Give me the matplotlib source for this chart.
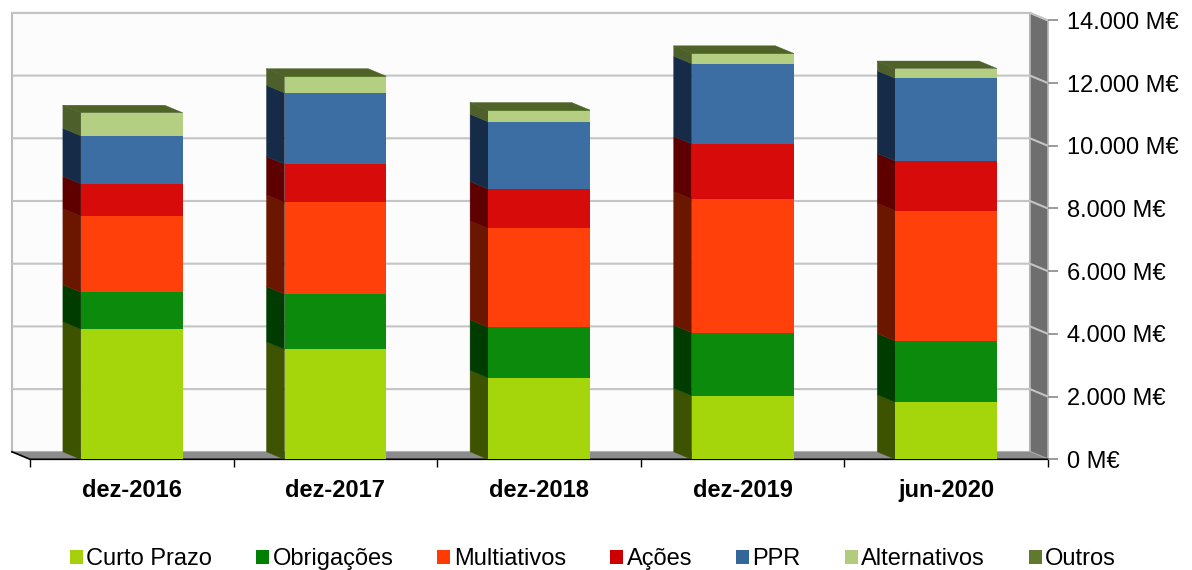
import numpy as np
import matplotlib.pyplot as plt
from matplotlib.patches import Polygon, Patch

plt.rcParams['font.family'] = ['Liberation Sans', 'DejaVu Sans']

categories = ["dez-2016", "dez-2017", "dez-2018", "dez-2019", "jun-2020"]
series = ["Curto Prazo", "Obrigações", "Multiativos", "Ações", "PPR", "Alternativos", "Outros"]

# values in M€
curto_prazo = [4150, 3510, 2600, 2030, 1820]
obrigacoes = [1180, 1760, 1610, 2010, 1955]
multiativos = [2430, 2925, 3155, 4265, 4155]
acoes = [1030, 1220, 1255, 1755, 1585]
ppr = [1530, 2275, 2150, 2560, 2640]
alternativos = [715, 510, 350, 310, 290]
outros = [20, 20, 20, 20, 20]

yticks = [0, 2000, 4000, 6000, 8000, 10000, 12000, 14000]
ytick_labels = ["0 M€", "2.000 M€", "4.000 M€", "6.000 M€", "8.000 M€",
                "10.000 M€", "12.000 M€", "14.000 M€"]

front_colors = ["#a4d60b", "#0b8a0b", "#ff400b", "#d80b0b", "#3c6ea4", "#b4cf82", "#5a7a2e"]
side_colors = ["#3e5300", "#003b00", "#6b1700", "#5e0000", "#162b47", "#4d5f2a", "#4a5c24"]
top_color = "#4f6228"
legend_colors = ["#a6cf0e", "#008000", "#ff3c00", "#cc0000", "#336699", "#b2cc7e", "#5f7a2e"]

data = np.array([curto_prazo, obrigacoes, multiativos, acoes, ppr, alternativos, outros], dtype=float)

W, H = 1192, 570
fig = plt.figure(figsize=(W / 100, H / 100), dpi=100)

# front plane: x -0.5..4.5 -> px 30..1048, y 0 -> px 459.3, 31.35 px per 1000
px_per_unit_y = 0.03135
y_top = 14300
ax = fig.add_axes([30 / W, (H - 459.3) / H, 1018 / W, y_top * px_per_unit_y / H])
ax.set_xlim(-0.5, 4.5)
ax.set_ylim(0, y_top)
for s in ax.spines.values():
    s.set_visible(False)

# 3D depth offset (left and up)
dx = 18 / (1018 / 5)
dy = 7.5 / px_per_unit_y
x0, x1 = -0.5, 4.5
ymax = yticks[-1]

# back wall
ax.add_patch(Polygon([(x0 - dx, dy), (x1 - dx, dy), (x1 - dx, ymax + dy), (x0 - dx, ymax + dy)],
                     closed=True, facecolor="#fcfcfc", edgecolor="#bdbdbd", lw=1.5, zorder=0, clip_on=False))
# right side panel
ax.add_patch(Polygon([(x1 - dx, dy), (x1, 0), (x1, ymax), (x1 - dx, ymax + dy)],
                     closed=True, facecolor="#6e6e6e", edgecolor="#b5b5b5", lw=1.2, zorder=0.5, clip_on=False))
# floor
ax.add_patch(Polygon([(x0 - dx, dy), (x1 - dx, dy), (x1, 0), (x0, 0)],
                     closed=True, facecolor="#8c8c8c", edgecolor="none", zorder=0.5, clip_on=False))

# gridlines on back wall and across the right panel
for v in yticks[1:]:
    ax.plot([x0 - dx, x1 - dx, x1], [v + dy, v + dy, v], color="#c4c4c4", lw=1.5,
            zorder=1, clip_on=False, solid_capstyle="butt")

# axis lines
ax.plot([x0 - dx, x0, x1], [dy, 0, 0], color="black", lw=1.2, zorder=1.5, clip_on=False)

# bars
bar_w = 0.5
xs = np.arange(len(categories))
bottoms = np.zeros(len(categories))
for i, name in enumerate(series):
    vals = data[i]
    ax.bar(xs, vals, bar_w, bottom=bottoms, color=front_colors[i], lw=0, zorder=3)
    for x, b, v in zip(xs, bottoms, vals):
        xl = x - bar_w / 2
        ax.add_patch(Polygon([(xl, b), (xl, b + v), (xl - dx, b + v + dy), (xl - dx, b + dy)],
                             closed=True, facecolor=side_colors[i], edgecolor=side_colors[i],
                             lw=0.3, zorder=2.5, clip_on=False))
    bottoms = bottoms + vals

for x, t in zip(xs, bottoms):
    xl, xr = x - bar_w / 2, x + bar_w / 2
    ax.add_patch(Polygon([(xl, t), (xr, t), (xr - dx, t + dy), (xl - dx, t + dy)],
                         closed=True, facecolor=top_color, edgecolor=top_color, lw=0.3,
                         zorder=2.6, clip_on=False))

# x axis
ax.set_xticks(xs)
ax.set_xticklabels(categories, fontsize=17, fontweight="bold")
ax.tick_params(axis="x", which="major", length=0, pad=14)
ax.set_xticks(np.arange(-0.5, 5, 1), minor=True)
ax.tick_params(axis="x", which="minor", length=6, width=1, color="black", direction="out")

# y axis on the right
ax.yaxis.tick_right()
ax.set_yticks(yticks)
ax.set_yticklabels(ytick_labels, fontsize=17)
ax.tick_params(axis="y", length=7, width=1.2, color="#8a8a8a", pad=7, direction="out")
ax.tick_params(axis="y", which="minor", length=0)
ax.set_facecolor("none")

handles = [Patch(facecolor=c, edgecolor="none") for c in legend_colors]
fig.legend(handles, series, loc="center", bbox_to_anchor=(593 / W, 11 / H), ncol=7,
           frameon=False, fontsize=17, handlelength=0.55, handleheight=0.55,
           handletextpad=0.15, columnspacing=1.86, borderpad=0, borderaxespad=0)

fig.savefig("out.png", dpi=100)
